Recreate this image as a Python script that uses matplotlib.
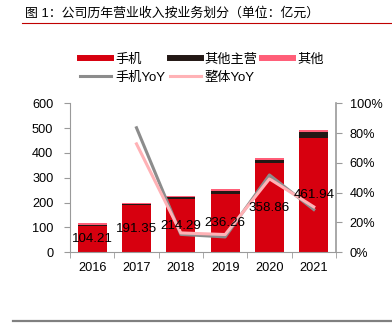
import numpy as np
import matplotlib
matplotlib.use("Agg")
import matplotlib.pyplot as plt
from matplotlib.lines import Line2D
from matplotlib.ticker import PercentFormatter

plt.rcParams['font.family'] = ['Liberation Sans', 'Noto Sans CJK SC']

title = "图 1：公司历年营业收入按业务划分（单位：亿元）"
years = ['2016', '2017', '2018', '2019', '2020', '2021']
phone = [104.21, 191.35, 214.29, 236.26, 358.86, 461.94]   # 手机
other_main = [6.0, 3.5, 7.0, 10.5, 12.3, 22.5]             # 其他主营
other = [5.8, 5.5, 5.2, 6.8, 7.2, 9.6]                     # 其他
phone_yoy = [83.6, 12.0, 10.3, 51.9, 28.7]                 # 手机YoY, from 2017
total_yoy = [72.8, 13.0, 11.9, 49.3, 30.5]                 # 整体YoY, from 2017

c_phone = '#D7000F'
c_main = '#231815'
c_other = '#FF5E78'
c_phone_yoy = '#8C8C8C'
c_total_yoy = '#FFB2B6'
spine_c = '#9A9A9A'

fig = plt.figure(figsize=(3.92, 3.23), dpi=100)
ax = fig.add_axes([0.1786, 0.219, 0.857 - 0.1786, 0.680 - 0.219])

x = np.arange(len(years))
w = 0.66
ax.bar(x, phone, w, color=c_phone)
ax.bar(x, other_main, w, bottom=phone, color=c_main)
bottom2 = np.array(phone) + np.array(other_main)
ax.bar(x, other, w, bottom=bottom2, color=c_other)

ax.set_xlim(-0.5, len(years) - 0.5)
ax.set_ylim(0, 600)
ax.set_yticks(range(0, 601, 100))
ax.set_xticks(x)
ax.set_xticklabels(years)
ax.set_xticks(np.arange(-0.5, len(years), 1), minor=True)
ax.tick_params(axis='x', which='major', length=0, pad=7, labelsize=9.2)
ax.tick_params(axis='x', which='minor', length=4, color=spine_c)
ax.tick_params(axis='y', length=4, color=spine_c, pad=8, labelsize=9.2)

for s in ['top', 'right']:
    ax.spines[s].set_visible(False)
for s in ['left', 'bottom']:
    ax.spines[s].set_color(spine_c)

ax2 = ax.twinx()
ax2.plot(x[1:], phone_yoy, color=c_phone_yoy, lw=2.2, label='手机YoY')
ax2.plot(x[1:], total_yoy, color=c_total_yoy, lw=2.2, label='整体YoY')
ax2.set_ylim(0, 100)
ax2.set_yticks(range(0, 101, 20))
ax2.yaxis.set_major_formatter(PercentFormatter(decimals=0))
ax2.tick_params(axis='y', length=4, color=spine_c, pad=6, labelsize=9.2)
for s in ['top', 'left', 'bottom']:
    ax2.spines[s].set_visible(False)
ax2.spines['right'].set_color(spine_c)
ax2.spines['right'].set_linewidth(1.2)

# value labels in the middle of the phone segment
for xi, v in zip(x, phone):
    ax2.text(xi, v / 2, "%.2f" % v, transform=ax.transData, ha='center', va='center',
             fontsize=9.6, color='black', zorder=5)

handles = [Line2D([], [], color=c_phone, lw=4.3),
           Line2D([], [], color=c_phone_yoy, lw=2.2),
           Line2D([], [], color=c_main, lw=4.3),
           Line2D([], [], color=c_total_yoy, lw=2.2),
           Line2D([], [], color=c_other, lw=4.3)]
labels = ['手机', '手机YoY', '其他主营', '整体YoY', '其他']
fig.legend(handles, labels, ncol=3, loc='upper left', bbox_to_anchor=(0.188, 0.855),
           frameon=False, fontsize=9.5, handlelength=2.35, handletextpad=0.3,
           columnspacing=0.35, labelspacing=0.45, borderpad=0)

fig.text(0.064, 0.957, title, fontsize=9.3, ha='left', va='center')
fig.add_artist(Line2D([0.056, 1.0], [0.928, 0.928], color='#C00000', lw=0.8))
fig.add_artist(Line2D([0.033, 1.0], [0.007, 0.007], color='#808080', lw=1.6))

plt.savefig('out.png', dpi=100)
